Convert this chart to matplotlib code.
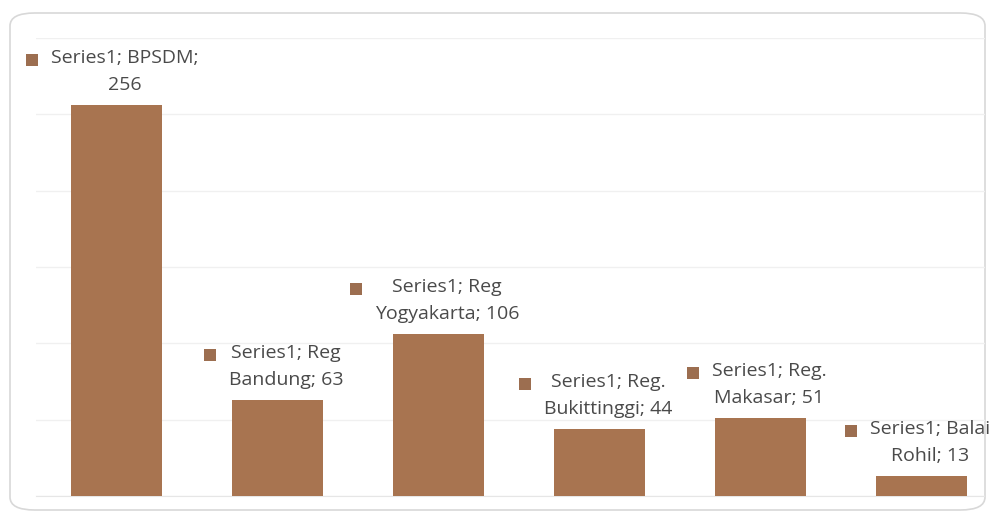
import matplotlib.pyplot as plt
from matplotlib.patches import FancyBboxPatch, Rectangle

categories = ["BPSDM", "Reg Bandung", "Reg Yogyakarta", "Reg. Bukittinggi",
              "Reg. Makasar", "Balai Rohil"]
values = [256, 63, 106, 44, 51, 13]
label_lines = [
    ("Series1; BPSDM;", "256"),
    ("Series1; Reg", "Bandung; 63"),
    ("Series1; Reg", "Yogyakarta; 106"),
    ("Series1; Reg.", "Bukittinggi; 44"),
    ("Series1; Reg.", "Makasar; 51"),
    ("Series1; Balai", "Rohil; 13"),
]

bar_color = "#A87450"
key_color = "#9C6E50"
text_color = "#4A4A4A"

plt.rcParams['font.family'] = ['Open Sans', 'DejaVu Sans']

fig = plt.figure(figsize=(9.9, 5.16), dpi=100)

# rounded chart frame
frame = FancyBboxPatch((10 / 990, 6 / 516), 975 / 990, 497 / 516,
                       boxstyle="round,pad=0,rounding_size=0.025",
                       transform=fig.transFigure, facecolor="white",
                       edgecolor="#D8D8D8", linewidth=1.2, zorder=-1)
fig.patches.append(frame)

ax = fig.add_axes([36 / 990, 20 / 516, 966 / 990, 458 / 516])
ax.set_facecolor("none")
ax.set_zorder(1)
x = range(len(categories))
ax.bar(x, values, width=0.565, color=bar_color, zorder=3)
ax.set_xlim(-0.5, len(categories) - 0.5)
ax.set_ylim(0, 300)
ax.set_yticks(range(0, 301, 50))
ax.grid(axis="y", color="#F0F0F0", linewidth=1, zorder=0)
ax.tick_params(left=False, bottom=False, right=False,
               labelleft=False, labelbottom=False)
for s in ["top", "right", "left"]:
    ax.spines[s].set_visible(False)
ax.spines["bottom"].set_color("#E6E6E6")
for gl in ax.get_ygridlines():
    gl.set_clip_path(frame)
ax.spines["bottom"].set_clip_path(frame)

fig.canvas.draw()
renderer = fig.canvas.get_renderer()
for i, (v, lines) in enumerate(zip(values, label_lines)):
    t = ax.annotate("\n".join(lines), (i, v), xytext=(6, 8),
                    textcoords="offset points", ha="center", va="bottom",
                    fontsize=14, color=text_color, linespacing=1.65,
                    zorder=5, annotation_clip=False)
    bb = t.get_window_extent(renderer)
    # legend key square to the left of the first line
    kc = bb.y1 - bb.height / 4
    fig.patches.append(Rectangle((bb.x0 - 25, kc - 6), 12, 12,
                                 transform=None, facecolor=key_color,
                                 edgecolor="none", zorder=6))

fig.savefig("out.png", dpi=100)
